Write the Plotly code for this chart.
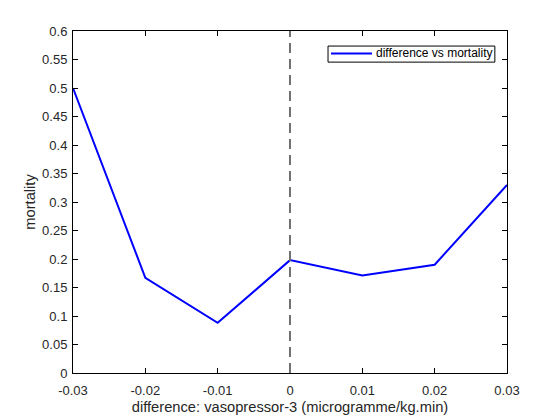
import plotly.graph_objects as go

# data
difference = [-0.03, -0.02, -0.01, 0.0, 0.01, 0.02, 0.03]
mortality = [0.5, 0.167, 0.088, 0.198, 0.171, 0.190, 0.330]
series_name = "difference vs mortality"

x_ticks = [-0.03, -0.02, -0.01, 0, 0.01, 0.02, 0.03]
x_ticklabels = ["-0.03", "-0.02", "-0.01", "0", "0.01", "0.02", "0.03"]
y_ticks = [0, 0.05, 0.1, 0.15, 0.2, 0.25, 0.3, 0.35, 0.4, 0.45, 0.5, 0.55, 0.6]
y_ticklabels = ["0", "0.05", "0.1", "0.15", "0.2", "0.25", "0.3", "0.35", "0.4", "0.45", "0.5", "0.55", "0.6"]

fig = go.Figure()
fig.add_trace(go.Scatter(x=difference, y=mortality, mode="lines",
                         line=dict(color="#0000ff", width=2),
                         name=series_name, showlegend=False))

# vertical dashed line at zero
fig.add_shape(type="line", x0=0, x1=0, y0=0, y1=0.6, xref="x", yref="y",
              line=dict(color="#707070", width=2, dash="10px,6px"))

# matlab-style legend box
fig.add_shape(type="rect", xref="paper", yref="paper", x0=0.5876, x1=0.972, y0=0.909, y1=0.956,
              line=dict(color="black", width=1), fillcolor="white")
fig.add_shape(type="line", xref="paper", yref="paper", x0=0.5945, x1=0.689, y0=0.9345, y1=0.9345,
              line=dict(color="#0000ff", width=2))
fig.add_annotation(xref="paper", yref="paper", x=0.694, y=0.9345, xanchor="left", yanchor="middle",
                   text=series_name, showarrow=False, font=dict(size=12, color="black"))

axis_common = dict(showline=True, linecolor="black", linewidth=1, mirror="ticks",
                   ticks="inside", ticklen=5, tickcolor="black", showgrid=False,
                   zeroline=False, automargin=False, tickfont=dict(size=13, color="#262626"))

fig.update_xaxes(range=[-0.03, 0.03], tickvals=x_ticks, ticktext=x_ticklabels,
                 ticklabelstandoff=5,
                 title=dict(text="difference: vasopressor-3 (microgramme/kg.min)",
                            font=dict(size=14.7, color="#262626"), standoff=5),
                 **axis_common)
fig.update_yaxes(range=[0, 0.6], tickvals=y_ticks, ticktext=y_ticklabels,
                 ticklabelstandoff=2,
                 title=dict(text="mortality", font=dict(size=14.7, color="#262626"), standoff=2),
                 **axis_common)

# page has an 8px body margin, so margins are shifted to keep the axes box in place
fig.update_layout(
    width=560, height=420,
    margin=dict(l=65, r=61, t=23, b=55),
    paper_bgcolor="white", plot_bgcolor="white",
    font=dict(family="Liberation Sans, Arial, sans-serif"),
    showlegend=False,
)

fig.write_html("out.html")
